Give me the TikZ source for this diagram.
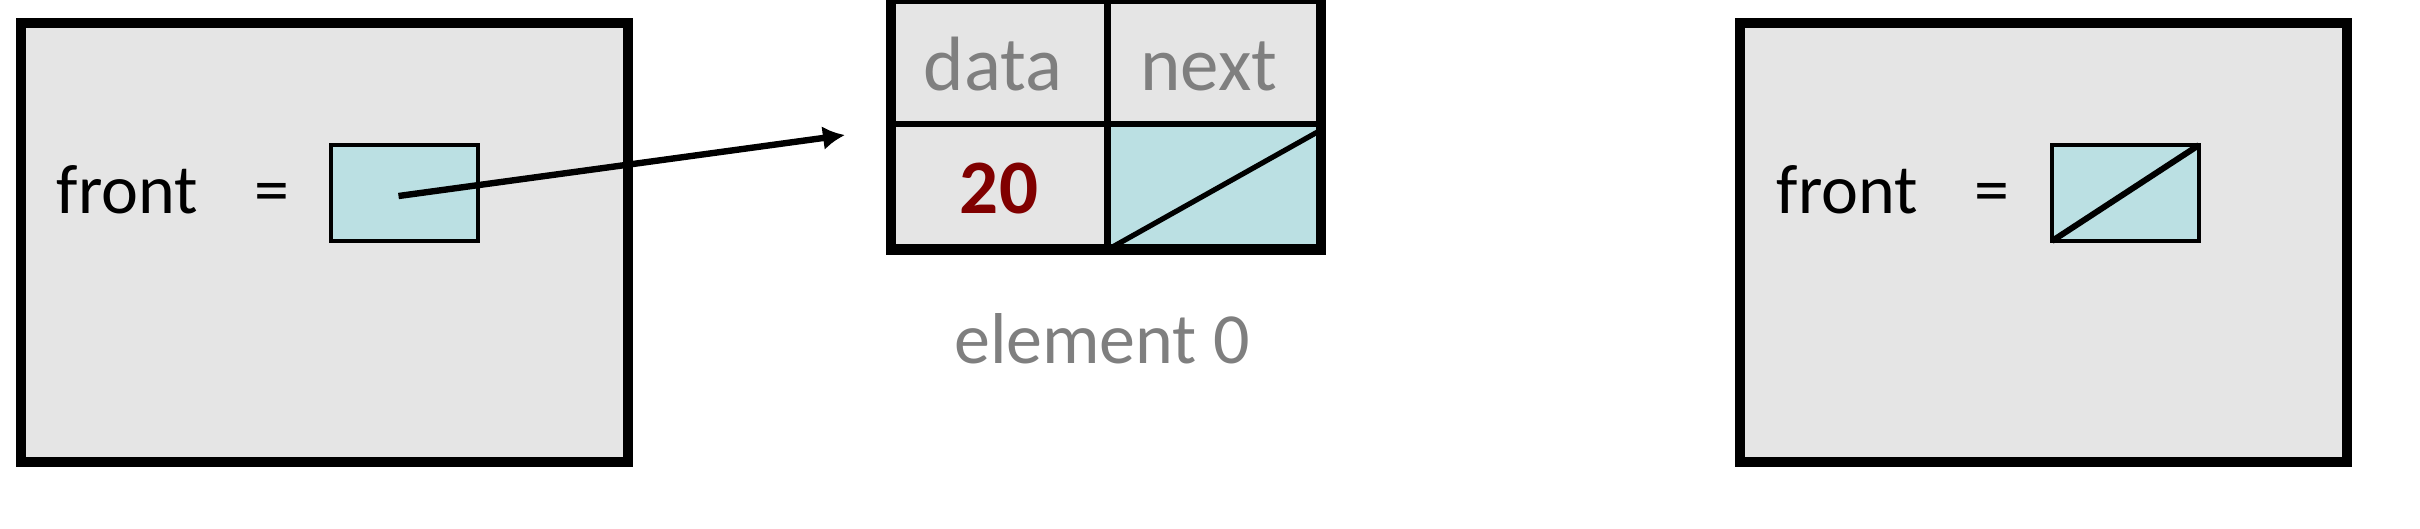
\documentclass[tikz,border=0pt]{standalone}
\usepackage{fontspec}
\setmainfont{Carlito}
\usetikzlibrary{arrows.meta}
\definecolor{framegray}{RGB}{229,229,229}
\definecolor{ptrblue}{RGB}{187,224,227}
\definecolor{lblgray}{RGB}{127,127,127}
\definecolor{valred}{RGB}{128,0,0}
\begin{document}
\begin{tikzpicture}[x=0.25pt,y=-0.25pt,
  frame/.style={draw=black, fill=framegray, line width=2.6pt, minimum width=151.75pt, minimum height=109.75pt, inner sep=0pt, outer sep=0pt},
  ptr/.style={draw=black, fill=ptrblue, line width=1.1pt, minimum width=36.75pt, minimum height=24pt, inner sep=0pt, outer sep=0pt},
  cell/.style={draw=black, fill=framegray, line width=1.3pt, minimum height=31.375pt, inner sep=0pt, outer sep=0pt},
  outerbox/.style={draw=black, line width=2.7pt, minimum width=107.5pt, minimum height=62.75pt, inner sep=0pt, outer sep=0pt},
  vartext/.style={anchor=base west, inner sep=0pt, font=\fontsize{17.5pt}{21pt}\selectfont},
  eqtext/.style={anchor=base, inner sep=0pt, font=\fontsize{17.5pt}{21pt}\selectfont},
  hdrtext/.style={anchor=base, inner sep=0pt, text=lblgray, font=\fontsize{19.25pt}{23pt}\selectfont},
  valtext/.style={anchor=base, inner sep=0pt, text=valred, font=\fontsize{19.25pt}{23pt}\selectfont\bfseries},
  captext/.style={anchor=base, inner sep=0pt, text=lblgray, font=\fontsize{18pt}{22pt}\selectfont},
  nullline/.style={draw=black, line width=1.4pt},
  refarrow/.style={draw=black, line width=1.6pt, -{Latex[length=5.5pt,width=6pt]}}
]
\useasboundingbox (0,0) rectangle (2420,528);

% left frame
\node[frame] (lframe) at (324.5,242.5) {};
\node[vartext] (lfront) at (56,213) {front};
\node[eqtext] (leq) at (272,213) {=};
\node[ptr] (lptr) at (404.5,193) {};

% list node
\node[cell, minimum width=54.25pt] (datahdr) at (998.5,61.25) {};
\node[cell, minimum width=53.25pt] (nexthdr) at (1214.5,61.25) {};
\node[cell, minimum width=54.25pt] (dataval) at (998.5,186.75) {};
\node[cell, minimum width=53.25pt, fill=ptrblue] (nextval) at (1214.5,186.75) {};
\draw[nullline, line width=1.3pt] (nextval.south west) -- ([yshift=-1.5pt]nextval.north east);
\node[outerbox] (elem) at (1106,124) {};
\node[hdrtext] (datalbl) at (993,90) {data};
\node[hdrtext] (nextlbl) at (1209,90) {next};
\node[valtext] (val) at (999,213) {20};
\node[captext] (cap) at (1102,363) {element 0};

% right frame
\node[frame] (rframe) at (2043.25,242.5) {};
\node[vartext] (rfront) at (1776,213) {front};
\node[eqtext] (req) at (1991.5,213) {=};
\node[ptr] (rptr) at (2125.5,193) {};
\draw[nullline, line width=1.5pt] (rptr.south west) -- (rptr.north east);

% arrow
\coordinate (arrstart) at (398.5,196);
\coordinate (arrtip) at (845,135);
\draw[refarrow] (arrstart) -- (arrtip);
\end{tikzpicture}
\end{document}
